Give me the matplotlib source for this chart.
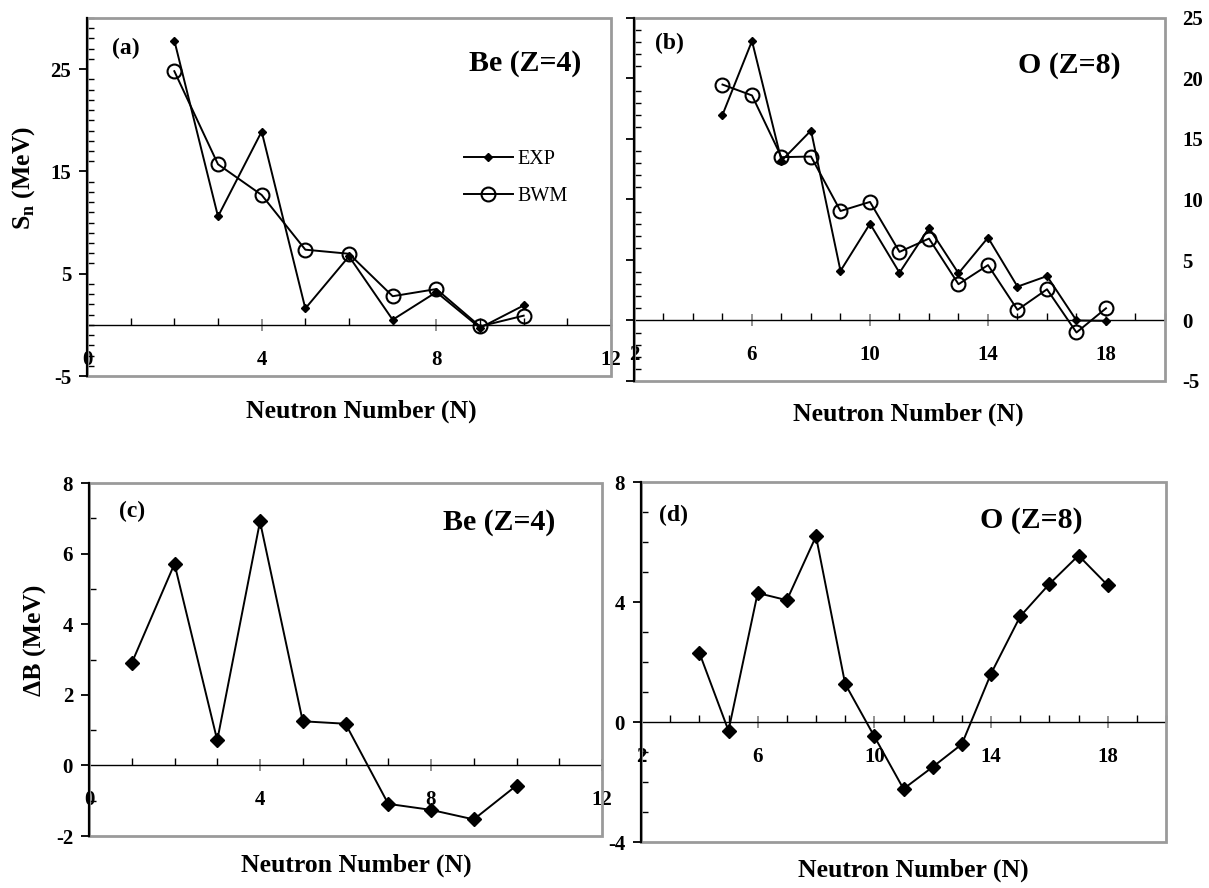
import numpy as np
import matplotlib
matplotlib.use("Agg")
import matplotlib.pyplot as plt
from matplotlib.patches import Rectangle
from matplotlib.ticker import MultipleLocator

plt.rcParams['font.family'] = ['Liberation Serif', 'DejaVu Serif']
plt.rcParams['font.weight'] = 'bold'
plt.rcParams['mathtext.fontset'] = 'custom'
plt.rcParams['mathtext.rm'] = 'Liberation Serif'
plt.rcParams['mathtext.bf'] = 'Liberation Serif:bold'
plt.rcParams['axes.unicode_minus'] = False

# ---------------- data ----------------
# (a) Be, neutron separation energy
n_be_sn = [2, 3, 4, 5, 6, 7, 8, 9, 10]
exp_be_sn = [27.8, 10.6, 18.9, 1.6, 6.7, 0.5, 3.2, -0.3, 1.9]
bwm_be_sn = [24.8, 15.7, 12.7, 7.35, 6.95, 2.8, 3.5, -0.15, 0.9]

# (b) O, neutron separation energy
n_o_sn = [5, 6, 7, 8, 9, 10, 11, 12, 13, 14, 15, 16, 17, 18]
exp_o_sn = [17.0, 23.1, 13.2, 15.7, 4.1, 8.0, 3.95, 7.65, 3.9, 6.85, 2.8, 3.67, 0.0, -0.03]
bwm_o_sn = [19.5, 18.6, 13.5, 13.55, 9.05, 9.8, 5.67, 6.77, 3.0, 4.58, 0.88, 2.58, -0.99, 1.01]

# (c) Be, Delta B
n_be_db = [1, 2, 3, 4, 5, 6, 7, 8, 9, 10]
db_be = [2.9, 5.71, 0.71, 6.91, 1.25, 1.18, -1.09, -1.26, -1.53, -0.57]

# (d) O, Delta B
n_o_db = [4, 5, 6, 7, 8, 9, 10, 11, 12, 13, 14, 15, 16, 17, 18]
db_o = [2.31, -0.29, 4.30, 4.06, 6.19, 1.27, -0.48, -2.23, -1.50, -0.74, 1.61, 3.52, 4.60, 5.55, 4.56]

# tick labels
xt_be = [0, 4, 8, 12]
xt_o = [2, 6, 10, 14, 18]
yt_a = [-5, 5, 15, 25]
yt_b = [-5, 0, 5, 10, 15, 20, 25]
yt_c = [-2, 0, 2, 4, 6, 8]
yt_d = [-4, 0, 4, 8]

W, H = 1209, 888
fig = plt.figure(figsize=(W / 100, H / 100), dpi=100)


def px_axes(l, t, r, b):
    return fig.add_axes([l / W, 1 - b / H, (r - l) / W, (b - t) / H])


FRAME = '#9a9a9a'
TICKFS = 15


def style(ax, xlim, ylim, xticks, yticks):
    ax.set_xlim(*xlim)
    ax.set_ylim(*ylim)
    for s in ['top', 'right']:
        ax.spines[s].set_visible(False)
    ax.spines['bottom'].set_position(('data', 0))
    ax.spines['bottom'].set_color('black')
    ax.spines['bottom'].set_linewidth(1.0)
    ax.spines['left'].set_color('black')
    ax.spines['left'].set_linewidth(1.6)
    ax.spines['left'].set_zorder(4)
    ax.add_patch(Rectangle((0, 0), 1, 1, transform=ax.transAxes, fill=False,
                           ec=FRAME, lw=2.0, clip_on=False, zorder=3))
    ax.set_xticks(xticks)
    ax.set_yticks(yticks)
    ax.xaxis.set_minor_locator(MultipleLocator(1))
    ax.yaxis.set_minor_locator(MultipleLocator(1))
    ax.tick_params(axis='x', which='major', direction='inout', length=8,
                   width=1.2, color='#808080', pad=14, labelsize=TICKFS,
                   top=False)
    ax.tick_params(axis='x', which='minor', direction='in', length=5,
                   width=1.0, color='black', top=False)
    ax.tick_params(axis='y', which='major', direction='out', length=5.5,
                   width=1.3, color='black', labelsize=TICKFS, pad=6,
                   right=False)
    ax.tick_params(axis='y', which='minor', direction='in', length=5,
                   width=1.0, color='black', right=False)
    for lab in ax.get_xticklabels() + ax.get_yticklabels():
        lab.set_fontweight('bold')


LW = 1.4

# ---------------- (a) ----------------
ax_a = px_axes(87, 18, 611, 376)
style(ax_a, (0, 12), (-5, 30), xt_be, yt_a)
ax_a.plot(n_be_sn, exp_be_sn, color='k', lw=LW, marker='D', ms=4, label='EXP', zorder=5)
ax_a.plot(n_be_sn, bwm_be_sn, color='k', lw=LW, marker='o', ms=10, mfc='none',
          mec='k', mew=1.5, label='BWM', zorder=5)
ax_a.text(0.048, 0.915, '(a)', transform=ax_a.transAxes, fontsize=17,
          fontweight='bold', va='center', ha='left')
ax_a.text(0.836, 0.874, 'Be (Z=4)', transform=ax_a.transAxes, fontsize=21.5,
          fontweight='bold', va='center', ha='center')
leg = ax_a.legend(loc='upper left', bbox_to_anchor=(0.72, 0.632), frameon=False,
                  prop={'weight': 'normal', 'size': 14.5}, handlelength=2.4,
                  handletextpad=0.25, labelspacing=0.9, borderpad=0, borderaxespad=0)

# ---------------- (b) ----------------
ax_b = px_axes(634, 18, 1165, 381)
style(ax_b, (2, 20), (-5, 25), xt_o, yt_b)
ax_b.tick_params(axis='y', which='major', labelleft=False, labelright=True,
                 right=False, pad=7)
for lab in ax_b.get_yticklabels():
    lab.set_fontweight('bold')
ax_b.plot(n_o_sn, exp_o_sn, color='k', lw=LW, marker='D', ms=4, zorder=5)
ax_b.plot(n_o_sn, bwm_o_sn, color='k', lw=LW, marker='o', ms=10, mfc='none',
          mec='k', mew=1.5, zorder=5)
ax_b.text(0.04, 0.93, '(b)', transform=ax_b.transAxes, fontsize=17,
          fontweight='bold', va='center', ha='left')
ax_b.text(0.819, 0.868, 'O (Z=8)', transform=ax_b.transAxes, fontsize=21.5,
          fontweight='bold', va='center', ha='center')

# ---------------- (c) ----------------
ax_c = px_axes(89, 483, 602, 836)
style(ax_c, (0, 12), (-2, 8), xt_be, yt_c)
ax_c.plot(n_be_db, db_be, color='k', lw=LW, marker='D', ms=7, zorder=5)
ax_c.text(0.058, 0.918, '(c)', transform=ax_c.transAxes, fontsize=17,
          fontweight='bold', va='center', ha='left')
ax_c.text(0.80, 0.887, 'Be (Z=4)', transform=ax_c.transAxes, fontsize=21.5,
          fontweight='bold', va='center', ha='center')

# ---------------- (d) ----------------
ax_d = px_axes(641, 482, 1166, 842)
style(ax_d, (2, 20), (-4, 8), xt_o, yt_d)
ax_d.plot(n_o_db, db_o, color='k', lw=LW, marker='D', ms=7, zorder=5)
ax_d.text(0.035, 0.908, '(d)', transform=ax_d.transAxes, fontsize=17,
          fontweight='bold', va='center', ha='left')
ax_d.text(0.743, 0.894, 'O (Z=8)', transform=ax_d.transAxes, fontsize=21.5,
          fontweight='bold', va='center', ha='center')

# ---------------- axis titles ----------------
LABFS = 18.5
fig.text(361 / W, 1 - 411 / H, 'Neutron Number (N)', fontsize=LABFS,
         fontweight='bold', ha='center', va='center')
fig.text(908 / W, 1 - 414 / H, 'Neutron Number (N)', fontsize=LABFS,
         fontweight='bold', ha='center', va='center')
fig.text(356 / W, 1 - 865 / H, 'Neutron Number (N)', fontsize=LABFS,
         fontweight='bold', ha='center', va='center')
fig.text(913 / W, 1 - 870 / H, 'Neutron Number (N)', fontsize=LABFS,
         fontweight='bold', ha='center', va='center')
fig.text(24 / W, 1 - 178 / H, r'$\mathbf{S}_\mathbf{n}$ (MeV)', fontsize=LABFS,
         fontweight='bold', ha='center', va='center', rotation=90)
fig.text(35 / W, 1 - 640 / H, 'ΔB (MeV)', fontsize=LABFS,
         fontweight='bold', ha='center', va='center', rotation=90)

fig.savefig('out.png', dpi=100)
